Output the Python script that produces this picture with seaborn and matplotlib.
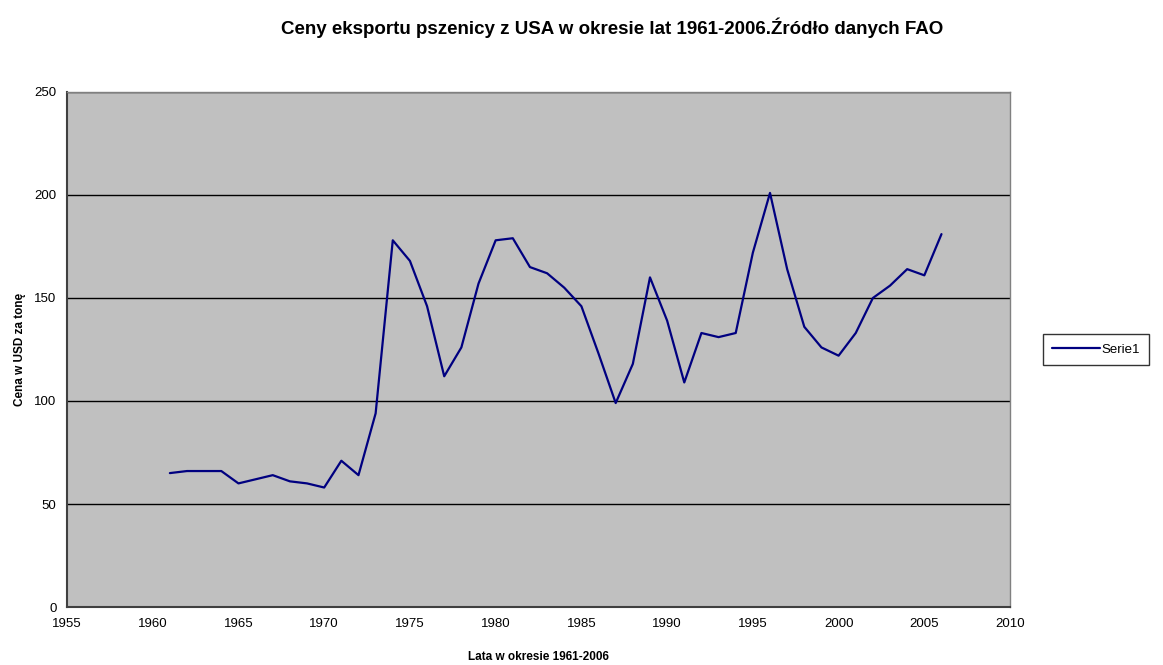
import matplotlib
matplotlib.use("Agg")
import matplotlib.pyplot as plt
import seaborn as sns
import pandas as pd

years = list(range(1961, 2007))
prices = [65, 66, 66, 66, 60, 62, 64, 61, 60, 58,
          71, 64, 94, 178, 168, 146, 112, 126, 157, 178,
          179, 165, 162, 155, 146, 123, 99, 118, 160, 139,
          109, 133, 131, 133, 172, 201, 164, 136, 126, 122,
          133, 150, 156, 164, 161, 181]
series_name = "Serie1"
title = "Ceny eksportu pszenicy z USA w okresie lat 1961-2006.Źródło danych FAO"
xlabel = "Lata w okresie 1961-2006"
ylabel = "Cena w USD za tonę"
xticks = list(range(1955, 2011, 5))
yticks = [0, 50, 100, 150, 200, 250]

df = pd.DataFrame({"year": years, "price": prices, "series": series_name})

sns.set_style("white")
plt.rcParams["font.family"] = ["Liberation Sans", "DejaVu Sans"]
plt.rcParams["text.color"] = "black"
plt.rcParams["axes.labelcolor"] = "black"
plt.rcParams["xtick.color"] = "black"
plt.rcParams["ytick.color"] = "black"

fig = plt.figure(figsize=(11.63, 6.65), dpi=100)
ax = fig.add_axes([0.0576, 0.0872, 0.8109, 0.7745])
ax.set_facecolor("#C0C0C0")

sns.lineplot(data=df, x="year", y="price", hue="series", palette=["#000080"],
             linewidth=1.6, ax=ax, legend=True)

ax.set_xlim(1955, 2010)
ax.set_ylim(0, 250)
ax.set_xticks(xticks)
ax.set_yticks(yticks)
ax.tick_params(axis="both", labelsize=9.5, length=4, direction="out",
               color="#404040", width=1, labelcolor="black")
ax.tick_params(axis="x", pad=4)
ax.yaxis.grid(True, color="#000000", linewidth=1)
ax.set_axisbelow(True)
for s in ["left", "bottom"]:
    ax.spines[s].set_color("#404040")
    ax.spines[s].set_linewidth(1.5)
for s in ["top", "right"]:
    ax.spines[s].set_color("#808080")
    ax.spines[s].set_linewidth(1.0)

ax.set_xlabel(xlabel, fontsize=8.5, fontweight="bold", labelpad=15, color="black")
ax.set_ylabel(ylabel, fontsize=8.5, fontweight="bold", labelpad=6, color="black")
fig.text(0.526, 0.958, title, ha="center", va="center", fontsize=13.5,
         fontweight="bold", color="black")

leg = ax.legend(loc="center left", bbox_to_anchor=(1.035, 0.5), frameon=True,
                fancybox=False, edgecolor="black", fontsize=9.5,
                handlelength=3.6, borderpad=0.7, handletextpad=0.1,
                borderaxespad=0)
leg.get_frame().set_linewidth(1.0)

fig.savefig("out.png", dpi=100)
